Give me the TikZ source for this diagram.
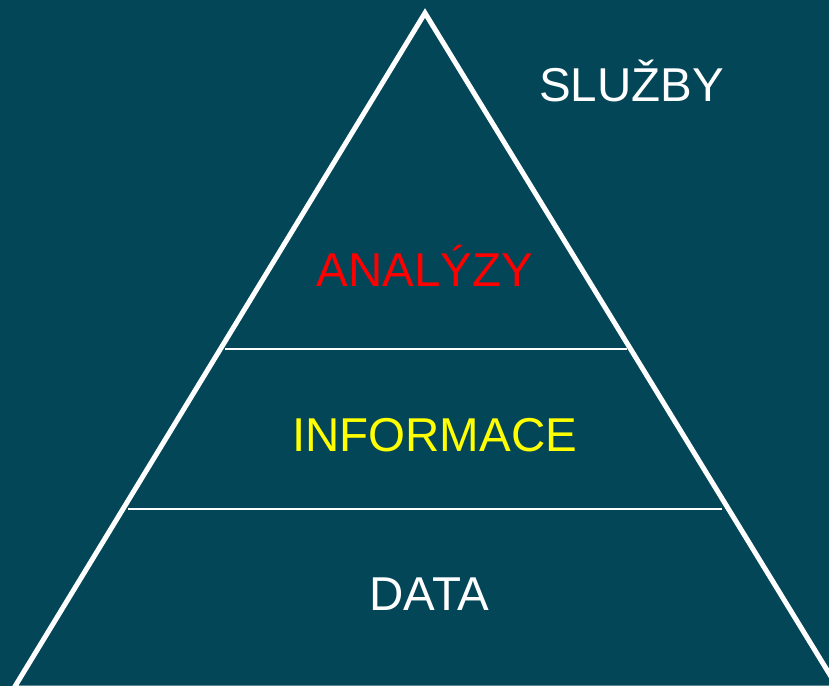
\documentclass[tikz,border=0pt]{standalone}
\usepackage{fontspec}
\setmainfont{Liberation Sans}
\definecolor{bgteal}{HTML}{034658}
\definecolor{lblred}{HTML}{FF0000}
\definecolor{lblyellow}{HTML}{FFFF00}
\begin{document}
\begin{tikzpicture}[x=1pt,y=-1pt,
  lbl/.style={inner sep=0pt, anchor=base, font=\fontsize{47.5}{56}\selectfont},
  edge/.style={draw=white, line width=5pt, line join=miter},
  divider/.style={draw=white, line width=2pt}]
  \fill[bgteal] (0,0) rectangle (829,686);
  \useasboundingbox (0,0) rectangle (829,686);
  \coordinate (apex) at (425,13);
  \coordinate (bl) at (14,688);
  \coordinate (br) at (838,688);
  \draw[edge] (apex) -- (br) -- (bl) -- cycle;
  \coordinate (d1l) at (225,349);
  \coordinate (d1r) at (627,349);
  \coordinate (d2l) at (128,509);
  \coordinate (d2r) at (722,509);
  \draw[divider] (d1l) -- (d1r);
  \draw[divider] (d2l) -- (d2r);
  \node[lbl, text=white] (sluzby) at (631.5,101) {SLUŽBY};
  \node[lbl, text=lblred] (analyzy) at (425,286) {ANALÝZY};
  \node[lbl, text=lblyellow] (informace) at (434.5,451) {INFORMACE};
  \node[lbl, text=white] (data) at (429.5,610) {DATA};
\end{tikzpicture}
\end{document}
